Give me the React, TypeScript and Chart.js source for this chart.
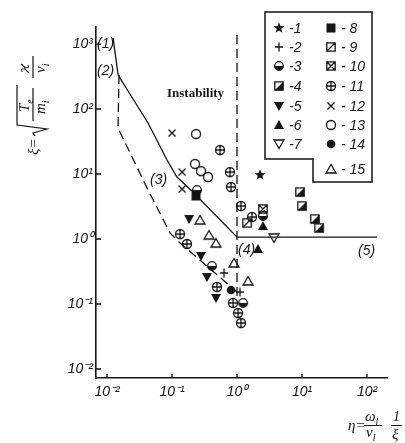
import React, { useEffect, useRef } from "react";
import { Chart, registerables } from "chart.js";
Chart.register(...registerables);

// ---------- axes ----------
const xTickValues = [0.01, 0.1, 1, 10, 100];
const xTickLabels = ["10⁻²", "10⁻¹", "10⁰", "10¹", "10²"];
const yTickValues = [0.01, 0.1, 1, 10, 100, 1000];
const yTickLabels = ["10⁻²", "10⁻¹", "10⁰", "10¹", "10²", "10³"];
const xMin = 0.00677;
const xMax = 203;
const yMin = 0.00727;
const yMax = 1828;

// ---------- boundary curves (eta, xi) ----------
const solidEta = [0.0124, 0.0148, 0.0428, 0.0838, 0.119, 0.21, 1, 142];
const solidXi = [1240, 333, 60.9, 16.4, 9.0, 5.3, 1.07, 1.07];
const dashedEta = [0.0153, 0.0148, 0.0158, 0.0428, 0.0932, 0.133, 1];
const dashedXi = [333, 52.8, 44.3, 5.67, 1.24, 0.868, 0.153];
const verticalEta = [1, 1];
const verticalXi = [1380, 0.115];

// ---------- experimental series [eta, xi] ----------
const series1 = [[2.26, 9.66]];
const series2 = [[0.631, 0.3], [1.11, 0.153]];
const series3 = [[0.242, 5.67], [0.412, 0.384], [1.24, 0.104], [2.51, 2.26]];
const series4 = [[9.31, 5.28], [10, 3.22], [15.8, 2.03], [18.3, 1.48]];
const series5 = [[0.183, 2.03], [0.279, 0.548], [0.345, 0.26], [0.475, 0.124]];
const series6 = [[2.1, 0.702], [2.51, 1.58]];
const series7 = [[3.71, 1.04]];
const series8 = [[0.234, 4.59]];
const series9 = [[1.43, 1.76]];
const series10 = [[2.51, 2.9]];
const series11 = [
  [0.548, 23.4], [0.78, 10.7], [0.809, 6.31], [1.15, 3.22], [1.7, 2.18],
  [0.133, 1.19], [0.17, 0.838], [0.492, 0.183], [0.868, 0.104], [1.04, 0.0727], [1.15, 0.051],
];
const series12 = [[0.1, 42.7], [0.143, 10.7], [0.143, 5.88]];
const series13 = [[0.234, 41.2], [0.226, 14.3], [0.279, 11.1], [0.358, 8.99]];
const series14 = [[0.809, 0.164]];
const series15 = [[0.27, 1.96], [0.371, 1.15], [0.475, 0.868], [0.899, 0.427], [1.48, 0.226]];

const seriesLabels = ["1", "2", "3", "4", "5", "6", "7", "8", "9", "10", "11", "12", "13", "14", "15"];
const seriesData = [series1, series2, series3, series4, series5, series6, series7, series8,
  series9, series10, series11, series12, series13, series14, series15];
const seriesKinds = ["star", "plus", "halfCircle", "halfSquare", "triDownFilled", "triUpFilled",
  "triDownOpen", "squareFilled", "squareDiag", "squareX", "circlePlus", "cross", "circleOpen",
  "circleFilled", "triUpOpen"];

const INK = "#151515";

function drawMarker(ctx: CanvasRenderingContext2D, kind: string, cx: number, cy: number) {
  ctx.save();
  ctx.fillStyle = INK;
  ctx.strokeStyle = INK;
  ctx.lineWidth = 1.3;
  ctx.beginPath();
  switch (kind) {
    case "star": {
      for (let i = 0; i < 10; i++) {
        const r = i % 2 === 0 ? 5.8 : 2.4;
        const a = -Math.PI / 2 + (i * Math.PI) / 5;
        const px = cx + r * Math.cos(a);
        const py = cy + r * Math.sin(a);
        if (i === 0) ctx.moveTo(px, py); else ctx.lineTo(px, py);
      }
      ctx.closePath();
      ctx.fill();
      break;
    }
    case "plus":
      ctx.moveTo(cx - 4, cy); ctx.lineTo(cx + 4, cy);
      ctx.moveTo(cx, cy - 4.5); ctx.lineTo(cx, cy + 4.5);
      ctx.stroke();
      break;
    case "halfCircle":
      ctx.arc(cx, cy, 4.3, 0, Math.PI);
      ctx.closePath();
      ctx.fill();
      ctx.beginPath();
      ctx.arc(cx, cy, 4.3, 0, Math.PI * 2);
      ctx.stroke();
      break;
    case "halfSquare":
      ctx.rect(cx - 4.2, cy - 4.2, 8.4, 8.4);
      ctx.stroke();
      ctx.beginPath();
      ctx.moveTo(cx + 4.2, cy - 4.2); ctx.lineTo(cx + 4.2, cy + 4.2); ctx.lineTo(cx - 4.2, cy + 4.2);
      ctx.closePath();
      ctx.fill();
      break;
    case "triDownFilled":
      ctx.moveTo(cx - 5, cy - 4); ctx.lineTo(cx + 5, cy - 4); ctx.lineTo(cx, cy + 5);
      ctx.closePath(); ctx.fill();
      break;
    case "triUpFilled":
      ctx.moveTo(cx - 5, cy + 4); ctx.lineTo(cx + 5, cy + 4); ctx.lineTo(cx, cy - 5);
      ctx.closePath(); ctx.fill();
      break;
    case "triDownOpen":
      ctx.moveTo(cx - 5, cy - 4); ctx.lineTo(cx + 5, cy - 4); ctx.lineTo(cx, cy + 4.5);
      ctx.closePath(); ctx.stroke();
      break;
    case "squareFilled":
      ctx.rect(cx - 4.5, cy - 4.5, 9, 9);
      ctx.fill();
      break;
    case "squareDiag":
      ctx.rect(cx - 4.2, cy - 4.2, 8.4, 8.4);
      ctx.moveTo(cx - 4.2, cy + 4.2); ctx.lineTo(cx + 4.2, cy - 4.2);
      ctx.stroke();
      break;
    case "squareX":
      ctx.rect(cx - 4.2, cy - 4.2, 8.4, 8.4);
      ctx.moveTo(cx - 4.2, cy - 4.2); ctx.lineTo(cx + 4.2, cy + 4.2);
      ctx.moveTo(cx - 4.2, cy + 4.2); ctx.lineTo(cx + 4.2, cy - 4.2);
      ctx.stroke();
      break;
    case "circlePlus":
      ctx.arc(cx, cy, 4.5, 0, Math.PI * 2);
      ctx.moveTo(cx - 4.5, cy); ctx.lineTo(cx + 4.5, cy);
      ctx.moveTo(cx, cy - 4.5); ctx.lineTo(cx, cy + 4.5);
      ctx.stroke();
      break;
    case "cross":
      ctx.moveTo(cx - 3.5, cy - 3.5); ctx.lineTo(cx + 3.5, cy + 3.5);
      ctx.moveTo(cx - 3.5, cy + 3.5); ctx.lineTo(cx + 3.5, cy - 3.5);
      ctx.stroke();
      break;
    case "circleOpen":
      ctx.arc(cx, cy, 4.5, 0, Math.PI * 2);
      ctx.stroke();
      break;
    case "circleFilled":
      ctx.arc(cx, cy, 4.3, 0, Math.PI * 2);
      ctx.fill();
      break;
    case "triUpOpen":
      ctx.moveTo(cx - 5, cy + 4); ctx.lineTo(cx + 5, cy + 4); ctx.lineTo(cx, cy - 4.5);
      ctx.closePath(); ctx.stroke();
      break;
  }
  ctx.restore();
}

function makeMarkerCanvas(kind: string): HTMLCanvasElement {
  const c = document.createElement("canvas");
  c.width = 14;
  c.height = 14;
  const cx = c.getContext("2d")!;
  drawMarker(cx, kind, 7, 7);
  return c;
}

function textWithSub(ctx: CanvasRenderingContext2D, main: string, sub: string, x: number, y: number, size: number) {
  ctx.font = `italic ${size}px "Liberation Serif"`;
  ctx.fillText(main, x, y);
  const w = ctx.measureText(main).width;
  ctx.font = `italic ${Math.round(size * 0.68)}px "Liberation Serif"`;
  ctx.fillText(sub, x + w, y + size * 0.25);
}

const decorPlugin = {
  id: "decor",
  afterDraw(chart: any) {
    const ctx: CanvasRenderingContext2D = chart.ctx;
    const xs = chart.scales.x;
    const ys = chart.scales.y;
    const area = chart.chartArea;
    ctx.save();
    ctx.strokeStyle = INK;
    ctx.fillStyle = INK;
    // inward ticks
    ctx.lineWidth = 1.3;
    ctx.beginPath();
    yTickValues.forEach((v) => {
      const py = ys.getPixelForValue(v);
      ctx.moveTo(area.left, py);
      ctx.lineTo(area.left + 5, py);
    });
    xTickValues.forEach((v) => {
      const px = xs.getPixelForValue(v);
      ctx.moveTo(px, area.bottom);
      ctx.lineTo(px, area.bottom - 4);
    });
    ctx.stroke();

    // curve labels
    ctx.textBaseline = "middle";
    ctx.textAlign = "left";
    ctx.font = 'italic 14px "Liberation Sans"';
    ctx.fillText("(1)", 97, 44);
    ctx.fillText("(2)", 97, 71);
    ctx.fillText("(3)", 150, 180);
    ctx.fillText("(4)", 238, 250);
    ctx.fillText("(5)", 358, 251);
    ctx.font = 'bold 13px "Liberation Serif"';
    ctx.fillText("Instability", 167, 94);

    // legend box
    ctx.lineWidth = 1.5;
    ctx.beginPath();
    ctx.moveTo(265, 12);
    ctx.lineTo(372, 12);
    ctx.lineTo(372, 182);
    ctx.lineTo(313, 182);
    ctx.lineTo(313, 159);
    ctx.lineTo(265, 159);
    ctx.closePath();
    ctx.fillStyle = "#ffffff";
    ctx.fill();
    ctx.stroke();
    ctx.fillStyle = INK;
    const rowsY = [28, 47, 66, 86, 106, 125, 144, 169];
    ctx.font = 'italic 14px "Liberation Sans"';
    seriesLabels.forEach((lab, i) => {
      const col = i < 7 ? 0 : 1;
      const row = col === 0 ? i : i - 7;
      const sx = col === 0 ? 279 : 331;
      const sy = rowsY[row];
      drawMarker(ctx, seriesKinds[i], sx, sy);
      ctx.fillText(col === 0 ? "-" + lab : "- " + lab, sx + 10, sy + 1);
    });

    // x axis title: eta = (omega_l / nu_l) (1 / xi)
    ctx.textBaseline = "alphabetic";
    ctx.font = 'italic 15px "Liberation Serif"';
    ctx.fillText("η=", 348, 430);
    textWithSub(ctx, "ω", "l", 365, 421, 15);
    textWithSub(ctx, "ν", "l", 366, 437, 15);
    ctx.lineWidth = 1.1;
    ctx.beginPath();
    ctx.moveTo(364, 425.5);
    ctx.lineTo(382, 425.5);
    ctx.moveTo(391, 425.5);
    ctx.lineTo(402, 425.5);
    ctx.stroke();
    ctx.font = 'italic 14px "Liberation Serif"';
    ctx.fillText("1", 393, 421);
    ctx.font = 'italic 15px "Liberation Serif"';
    ctx.fillText("ξ", 392, 439);

    // y axis title (rotated): xi = sqrt(Te/mi) * kappa/nu_i
    ctx.save();
    ctx.translate(33, 100);
    ctx.rotate(-Math.PI / 2);
    ctx.font = 'italic 15px "Liberation Serif"';
    ctx.fillText("ξ=", -55, 5);
    ctx.lineWidth = 1.2;
    ctx.beginPath();
    ctx.moveTo(-36, 2);
    ctx.lineTo(-33, 0);
    ctx.lineTo(-29, 14);
    ctx.lineTo(-25, -16);
    ctx.lineTo(15, -16);
    ctx.stroke();
    ctx.beginPath();
    ctx.moveTo(-21, 0);
    ctx.lineTo(12, 0);
    ctx.moveTo(22, 0);
    ctx.lineTo(44, 0);
    ctx.stroke();
    textWithSub(ctx, "T", "e", -12, -4, 15);
    textWithSub(ctx, "m", "i", -14, 12, 15);
    ctx.font = 'italic 15px "DejaVu Serif"';
    ctx.fillText("ϰ", 27, -4);
    textWithSub(ctx, "ν", "i", 27, 12, 15);
    ctx.restore();

    ctx.restore();
  },
};

export default function App() {
  const canvasRef = useRef<HTMLCanvasElement | null>(null);
  useEffect(() => {
    const canvas = canvasRef.current;
    if (!canvas) return;
    const lineDs = (etas: number[], xis: number[], dashed: boolean) => ({
      type: "line" as const,
      data: etas.map((x, i) => ({ x, y: xis[i] })),
      showLine: true,
      borderColor: INK,
      borderWidth: 1.3,
      borderDash: dashed ? [9, 5] : [],
      pointRadius: 0,
      fill: false,
      tension: 0,
      order: 10,
    });
    const markerDatasets = seriesData.map((s, i) => ({
      label: seriesLabels[i],
      data: s.map(([x, y]) => ({ x, y })),
      pointStyle: makeMarkerCanvas(seriesKinds[i]),
      pointRadius: 5,
      showLine: false,
      order: 0,
    }));
    const chart = new Chart(canvas, {
      type: "scatter",
      data: {
        datasets: [
          ...markerDatasets,
          lineDs(solidEta, solidXi, false),
          lineDs(dashedEta, dashedXi, true),
          lineDs(verticalEta, verticalXi, true),
        ] as any,
      },
      options: {
        animation: false,
        responsive: false,
        layout: { padding: { left: 0, top: 27, right: 18, bottom: 0 } },
        plugins: { legend: { display: false }, tooltip: { enabled: false } },
        scales: {
          x: {
            type: "logarithmic",
            min: xMin,
            max: xMax,
            position: "bottom",
            grid: { display: false, drawTicks: false },
            border: { display: true, color: INK, width: 1.6 },
            afterBuildTicks: (scale: any) => {
              scale.ticks = xTickValues.map((v) => ({ value: v }));
            },
            afterFit: (scale: any) => {
              scale.height = 65;
            },
            ticks: {
              autoSkip: false,
              maxRotation: 0,
              padding: 6,
              color: INK,
              font: { family: '"Liberation Sans"', size: 14, style: "italic" },
              callback: (_v: any, i: number) => xTickLabels[i],
            },
          },
          y: {
            type: "logarithmic",
            min: yMin,
            max: yMax,
            position: "left",
            grid: { display: false, drawTicks: false },
            border: { display: true, color: INK, width: 1.6 },
            afterBuildTicks: (scale: any) => {
              scale.ticks = yTickValues.map((v) => ({ value: v }));
            },
            afterFit: (scale: any) => {
              scale.width = 96;
            },
            ticks: {
              autoSkip: false,
              padding: 3,
              color: INK,
              font: { family: '"Liberation Sans"', size: 14, style: "italic" },
              callback: (_v: any, i: number) => yTickLabels[i],
            },
          },
        },
      },
      plugins: [decorPlugin],
    });
    return () => chart.destroy();
  }, []);
  return (
    <div style={{ position: "absolute", left: 0, top: 0, width: 405, height: 443, background: "#fff" }}>
      <canvas ref={canvasRef} width={405} height={443} />
    </div>
  );
}
